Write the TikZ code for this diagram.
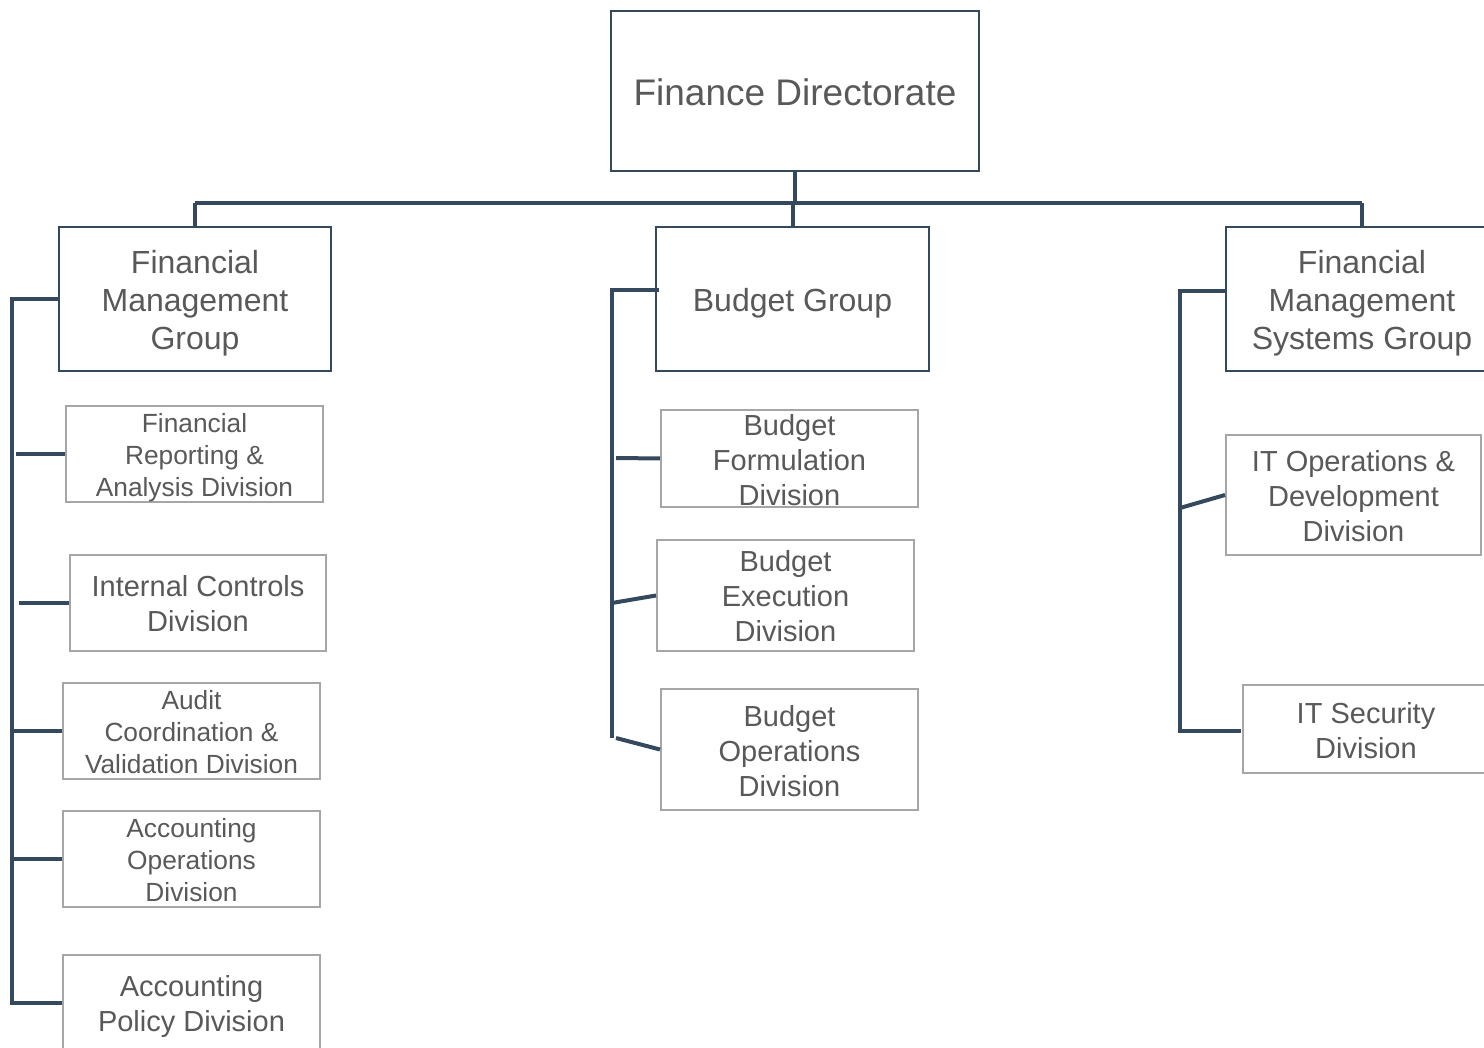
\documentclass[tikz,border=0pt]{standalone}
\usepackage{fontspec}
\setmainfont{Liberation Sans}
\definecolor{lineC}{HTML}{34495E}
\definecolor{txtC}{HTML}{595959}
\definecolor{divC}{HTML}{A6A6A6}
\newcommand\tsh[1]{\rule{0pt}{\dimexpr0.73em+#1\relax}}
\tikzset{
  conn/.style={draw=lineC, line width=4pt},
  grpbox/.style={draw=lineC, line width=2pt, fill=white, text=txtC, align=center, inner sep=0pt,
     font=\fontsize{32}{38}\selectfont},
  divbox/.style={draw=divC, line width=2pt, fill=white, text=txtC, align=center, inner sep=0pt,
     font=\fontsize{29}{35}\selectfont},
  smalldiv/.style={divbox, font=\fontsize{26.3}{32}\selectfont},
}
\begin{document}
\begin{tikzpicture}[x=1pt,y=-1pt]
\useasboundingbox (0,0) rectangle (1484,1048);
\clip (0,0) rectangle (1484,1048);
% top
\node[grpbox, minimum width=368pt, minimum height=160pt, font=\fontsize{37}{44}\selectfont] (fd) at (795,91) {\tsh{2pt}Finance Directorate};
% groups
\node[grpbox, minimum width=272pt, minimum height=144pt] (fmg) at (195,299) {\tsh{8pt}Financial\\Management\\Group};
\node[grpbox, minimum width=273pt, minimum height=144pt] (bg) at (792.5,299) {\tsh{8pt}Budget Group};
\node[grpbox, minimum width=272pt, minimum height=144pt] (fmsg) at (1362,299) {\tsh{8pt}Financial\\Management\\Systems Group};
% FMG divisions
\node[smalldiv, minimum width=257pt, minimum height=96pt] (fra) at (194.5,454) {\tsh{8pt}Financial\\Reporting \&\\Analysis Division};
\node[divbox, minimum width=256pt, minimum height=96pt] (icd) at (198,603) {\tsh{2pt}Internal Controls\\Division};
\node[smalldiv, minimum width=257pt, minimum height=96pt] (acv) at (191.5,731) {\tsh{2pt}Audit\\Coordination \&\\Validation Division};
\node[smalldiv, minimum width=257pt, minimum height=96pt] (aod) at (191.5,859) {\tsh{2pt}Accounting\\Operations\\Division};
\node[divbox, minimum width=257pt, minimum height=96pt] (apd) at (191.5,1003) {\tsh{6pt}Accounting\\Policy Division};
% BG divisions
\node[divbox, minimum width=257pt, minimum height=97pt] (bfd) at (789.5,458.5) {\tsh{3pt}Budget\\Formulation\\Division};
\node[divbox, minimum width=257pt, minimum height=111pt] (bed) at (785.5,595.5) {\tsh{2pt}Budget\\Execution\\Division};
\node[divbox, minimum width=257pt, minimum height=121pt] (bod) at (789.5,749.5) {\tsh{4pt}Budget\\Operations\\Division};
% FMSG divisions
\node[divbox, minimum width=255pt, minimum height=120pt] (itod) at (1353.5,495) {\tsh{2pt}IT Operations \&\\Development\\Division};
\node[divbox, minimum width=246pt, minimum height=88pt] (itsd) at (1366,729) {\tsh{4pt}IT Security\\Division};
% bus coordinates
\coordinate (busL) at (195,203);
\coordinate (busR) at (1362,203);
\coordinate (busFD) at (795,203);
\coordinate (busBG) at (793,203);
\coordinate (bgtop) at (793,227);
% left spine
\coordinate (lt) at (12,299);
\coordinate (lb) at (12,1003);
% middle spine
\coordinate (mt) at (612,290);
\coordinate (mb) at (612,738);
\coordinate (bgl) at (659,290);
% right spine
\coordinate (rt) at (1180,291);
\coordinate (rb) at (1180,731);
\coordinate (itsdl) at (1241,731);
% connectors top
\draw[conn] (fd.south) -- (busFD);
\draw[conn] (busL) -- (busR);
\draw[conn] (busL) -- (fmg.north);
\draw[conn] (busBG) -- (bgtop);
\draw[conn] (busR) -- (fmsg.north);
% left
\draw[conn] (fmg.west) -- (lt) -- (lb) -- (apd.west);
\draw[conn] (16,454) -- (fra.west);
\draw[conn] (19,603) -- (icd.west);
\draw[conn] (12,731) -- (acv.west);
\draw[conn] (12,859) -- (aod.west);
% middle
\draw[conn] (bgl) -- (mt) -- (mb);
\draw[conn] (616,458) -- (bfd.west);
\draw[conn] (612,603) -- (bed.west);
\draw[conn] (616,738) -- (bod.west);
% right
\draw[conn] (1226,291) -- (rt) -- (rb) -- (itsdl);
\draw[conn] (1180,508) -- (itod.west);
\end{tikzpicture}
\end{document}
